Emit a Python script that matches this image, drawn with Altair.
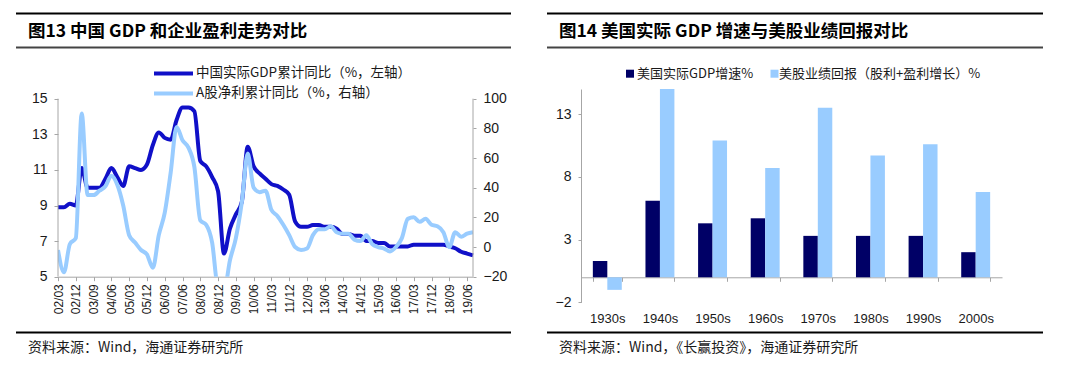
import altair as alt
import pandas as pd

# ---------------- data: panel 1 (China GDP vs A-share profit) ----------------
quarters = [f"{y % 100:02d}/{m}" for y in range(2002, 2020) for m in ("03", "06", "09", "12")][:71]
x_tick_labels = ["02/03", "02/12", "03/09", "04/06", "05/03", "05/12", "06/09", "07/06",
                 "08/03", "08/12", "09/09", "10/06", "11/03", "11/12", "12/09", "13/06",
                 "14/03", "14/12", "15/09", "16/06", "17/03", "17/12", "18/09", "19/06"]
gdp_cn = [8.9, 8.9, 9.1, 9.0,
          11.1, 10.0, 10.0, 10.0,
          10.5, 11.1, 10.6, 10.1,
          11.2, 11.1, 11.0, 11.3,
          12.4, 13.1, 12.8, 12.7,
          13.8, 14.5, 14.5, 14.3,
          11.5, 11.2, 10.6, 9.8,
          6.3, 7.7, 8.5, 9.2,
          12.3, 11.2, 10.8, 10.5,
          10.2, 10.1, 9.9, 9.6,
          8.1, 7.8, 7.8, 7.9,
          7.9, 7.8, 7.8, 7.7,
          7.4, 7.4, 7.3, 7.3,
          7.0, 7.0, 6.9, 6.9,
          6.7, 6.7, 6.7, 6.7,
          6.8, 6.8, 6.8, 6.8,
          6.8, 6.8, 6.7, 6.6,
          6.4, 6.3, 6.2]
profit_a = [-2, -17, 2, 6,
            90, 35, 35, 38,
            41, 48, 42, 28,
            8, 3, -2, -5,
            -14, 8, 23, 50,
            81, 72, 67, 54,
            18, 15, 3, -28,
            -30, -9, 6, 30,
            63, 40, 37, 38,
            25, 21, 15, 8,
            0, -2, -1, 8,
            12, 12, 14, 10,
            9, 9, 5, 4,
            8, 2, 0, -1,
            -3, 0, 6, 19,
            20, 17, 19, 15,
            14, 10, 0, 10,
            7, 9, 10]
line_series = ["中国实际GDP累计同比（%，左轴）", "A股净利累计同比（%，右轴）"]

# ---------------- data: panel 2 (US GDP vs equity fundamental return) ----------------
decades = ["1930s", "1940s", "1950s", "1960s", "1970s", "1980s", "1990s", "2000s"]
us_gdp = [1.3, 6.1, 4.3, 4.7, 3.3, 3.3, 3.3, 2.0]
us_returns = [-1.0, 15.0, 10.9, 8.7, 13.5, 9.7, 10.6, 6.8]
bar_series = ["美国实际GDP增速%", "美股业绩回报（股利+盈利增长）%"]

titles = ["图13 中国 GDP 和企业盈利走势对比", "图14 美国实际 GDP 增速与美股业绩回报对比"]
sources = ["资料来源：Wind，海通证券研究所", "资料来源：Wind，《长赢投资》，海通证券研究所"]

# ---------------- styles ----------------
C_LINE_DARK = "#1010c8"
C_LIGHT = "#99ccff"
C_NAVY = "#000066"
GRAY = "#a6a6a6"
TXT = "#1a1a1a"
CJK = "Noto Sans CJK SC"
LAT = "Liberation Sans"

one = pd.DataFrame({"k": [0]})


def hrule(x1, x2, y, color, width):
    return alt.Chart(one).mark_rule(color=color, strokeWidth=width).encode(
        x=alt.value(x1), x2=alt.value(x2), y=alt.value(y))


def vrule(x, y1, y2, color, width):
    return alt.Chart(one).mark_rule(color=color, strokeWidth=width).encode(
        x=alt.value(x), y=alt.value(y1), y2=alt.value(y2))


def label(txt, x, y, size, weight="normal", color=TXT):
    return alt.Chart(one).mark_text(text=txt, align="left", baseline="middle", font=CJK,
                                    fontSize=size, fontWeight=weight, color=color).encode(
        x=alt.value(x), y=alt.value(y))


def axis(**kw):
    base = dict(title=None, grid=False, labelFont=LAT, labelColor=TXT,
                domainColor=GRAY, tickColor=GRAY)
    base.update(kw)
    return alt.Axis(**base)


# ---------------- panel 1 ----------------
# both panels share the same view top; panel 1's axes start EXTRA px lower
W1, AX1 = 415, 178          # axis span of panel 1 (5..15 / -20..100)
EXTRA = 9.7                  # panel 2's axis starts this much higher
H1 = AX1 + EXTRA
gdp_top = 15 + EXTRA * 10 / AX1
np_top = 100 + EXTRA * 120 / AX1

df1 = pd.DataFrame({"q": quarters, "gdp": gdp_cn, "np": profit_a})
xq = alt.X("q:O", sort=quarters, scale=alt.Scale(type="point", padding=0),
           axis=axis(values=x_tick_labels, labelAngle=-90, labelFontSize=12,
                     tickSize=4, labelPadding=3, labelOverlap=False))

gdp_line = alt.Chart(df1).mark_line(color=C_LINE_DARK, strokeWidth=4, interpolate="monotone").encode(
    x=xq,
    y=alt.Y("gdp:Q", scale=alt.Scale(domain=[5, gdp_top], nice=False, zero=False),
            axis=axis(orient="left", values=[5, 7, 9, 11, 13, 15], labelFontSize=14,
                      tickSize=4, labelPadding=7, domain=False)))
np_line = alt.Chart(df1).mark_line(color=C_LIGHT, strokeWidth=4, interpolate="monotone", clip=True).encode(
    x=xq,
    y=alt.Y("np:Q", scale=alt.Scale(domain=[-20, np_top], nice=False, zero=False),
            axis=axis(orient="right", values=[-20, 0, 20, 40, 60, 80, 100], labelFontSize=14,
                      tickSize=3, labelPadding=7, domain=False)))

deco1 = [
    vrule(0, EXTRA, H1, GRAY, 1),
    vrule(W1, EXTRA, H1, GRAY, 1),
    hrule(-42, 453, -75.6, "#000000", 2),
    label(titles[0], -30, -56.6, 17.5, "bold", "#000000"),
    hrule(-42, 453, -41.6, "#444444", 2),
    hrule(96, 135, -15.6, C_LINE_DARK, 4),
    label(line_series[0], 138, -15.6, 13.5),
    hrule(96, 135, 4.4, C_LIGHT, 4),
    label(line_series[1], 138, 4.4, 13.5),
    hrule(-42, 453, 243.4, "#000000", 2),
    label(sources[0], -30, 258.7, 14),
]

panel1 = alt.layer(gdp_line, np_line, *deco1).resolve_scale(y="independent").properties(
    width=W1, height=H1)

# ---------------- panel 2 ----------------
W2, H2 = 421, 213.4
df2 = pd.DataFrame({
    "decade": decades * 2,
    "series": [bar_series[0]] * len(decades) + [bar_series[1]] * len(decades),
    "value": us_gdp + us_returns,
})
zero_offset = -H2 * 2 / 17
bars = alt.Chart(df2).mark_bar().encode(
    x=alt.X("decade:N", sort=decades,
            scale=alt.Scale(paddingInner=0.45, paddingOuter=0.225),
            axis=axis(labelAngle=0, labelFontSize=13, offset=zero_offset, tickBand="extent",
                      tickSize=4, labelPadding=31)),
    xOffset=alt.XOffset("series:N", sort=bar_series, scale=alt.Scale(paddingInner=0, paddingOuter=0)),
    y=alt.Y("value:Q", scale=alt.Scale(domain=[-2, 15], nice=False, zero=False),
            axis=axis(values=[-2, 3, 8, 13], labelFontSize=14, tickSize=3, labelPadding=7)),
    color=alt.Color("series:N", scale=alt.Scale(domain=bar_series, range=[C_NAVY, C_LIGHT]),
                    legend=None),
)


def square(x, y, color):
    return alt.Chart(one).mark_square(color=color, size=64, opacity=1).encode(
        x=alt.value(x), y=alt.value(y))


deco2 = [
    hrule(-34, 462, -75.6, "#000000", 2),
    label(titles[1], -22, -56.6, 17.5, "bold", "#000000"),
    hrule(-34, 462, -41.6, "#444444", 2),
    square(49, -15.3, C_NAVY),
    label(bar_series[0], 56, -15.3, 13),
    square(193.5, -15.3, C_LIGHT),
    label(bar_series[1], 198, -15.3, 13),
    hrule(-34, 462, 243.4, "#000000", 2),
    label(sources[1], -22, 259.4, 14),
]

panel2 = alt.layer(bars, *deco2).properties(width=W2, height=H2)

chart = alt.hconcat(panel1, panel2, spacing=34).properties(
    padding={"left": 7, "top": 4, "right": 0, "bottom": 0},
    background="white",
).configure_view(stroke=None)

chart.save("out.html", embed_options={"renderer": "svg", "actions": False})
